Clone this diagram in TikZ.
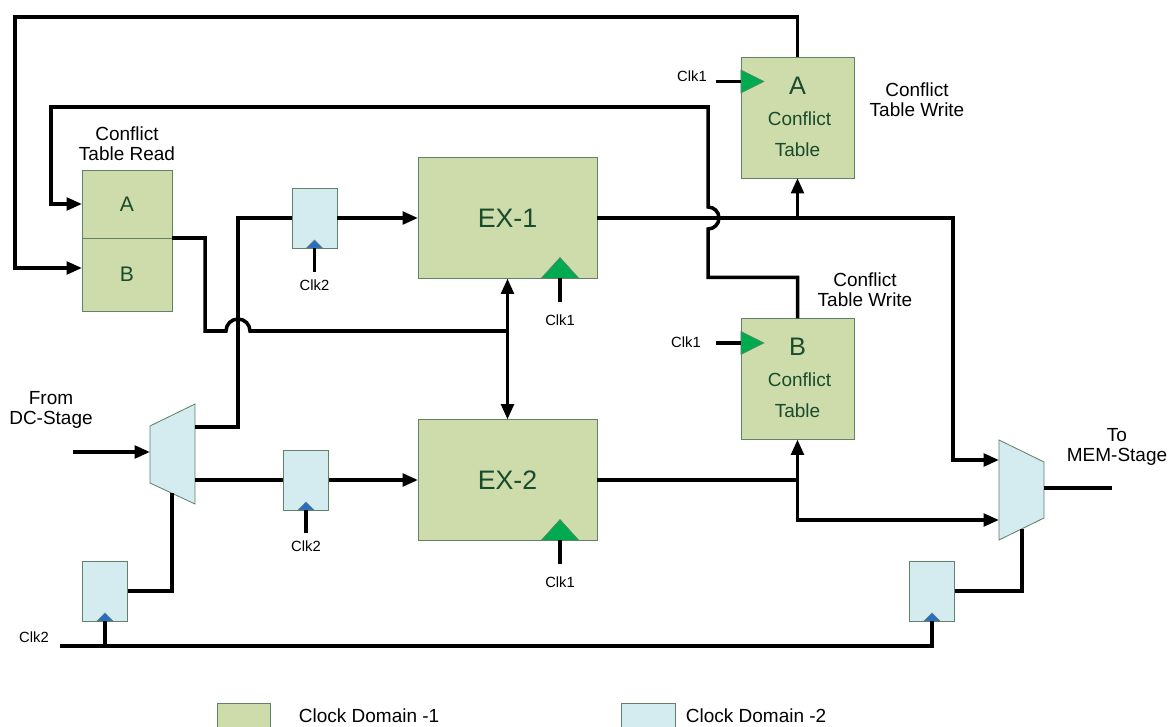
\documentclass[tikz,border=0pt]{standalone}
\usepackage{fontspec}
\setmainfont{Liberation Sans}
\usetikzlibrary{arrows.meta,positioning,calc}
\definecolor{domone}{RGB}{205,220,170}
\definecolor{domtwo}{RGB}{212,235,240}
\definecolor{boxline}{RGB}{95,130,105}
\definecolor{boxtext}{RGB}{25,75,45}
\definecolor{clkone}{RGB}{0,170,80}
\definecolor{clktwo}{RGB}{40,110,200}

\begin{document}
\begin{tikzpicture}[x=0.025cm,y=-0.025cm,>={Triangle[length=11pt,width=9pt]},
  wire/.style={line width=2.5pt},
  dom1/.style={draw=boxline,fill=domone,line width=0.6pt,text=boxtext,inner sep=0pt,outer sep=0pt},
  dom2/.style={draw=boxline,fill=domtwo,line width=0.6pt,inner sep=0pt,outer sep=0pt},
  reg/.style={dom2,minimum width=1.125cm,minimum height=1.5cm},
  exbox/.style={dom1,minimum width=4.475cm,minimum height=3.025cm,font=\fontsize{19}{22}\selectfont},
  ctbox/.style={dom1,minimum width=2.825cm,minimum height=3.025cm},
  lbl/.style={font=\fontsize{13.5}{14.5}\selectfont,align=center},
  clk/.style={font=\fontsize{10.5}{12}\selectfont}]

\useasboundingbox (0,0) rectangle (1171,727);

% execution units
\node[exbox] (ex1) at (507.5,218) {EX-1};
\node[exbox] (ex2) at (507.5,480) {EX-2};
\foreach \ex in {ex1,ex2} {
  \filldraw[fill=clkone,draw=boxline,line width=0.4pt] ($(\ex.south east)+(-56,0)$) -- ++(19,-21) -- ++(19,21) -- cycle;
  \draw[wire] ($(\ex.south east)+(-37,-1)$) -- ++(0,24) node[clk,below=5pt]{Clk1};
}

% conflict table read
\node[dom1,minimum width=2.25cm,minimum height=1.7cm,font=\fontsize{15}{18}\selectfont] (ctra) at (127,204) {A};
\node[dom1,minimum width=2.25cm,minimum height=1.825cm,font=\fontsize{15}{18}\selectfont] (ctrb) at (127,274.5) {B};
\node[lbl] at (127,144) {Conflict\\Table Read};

% conflict tables write
\node[ctbox] (cta) at (797.5,117.5) {};
\node[ctbox] (ctb) at (797.5,379) {};
\foreach \ct/\nm in {cta/A,ctb/B} {
  \node[text=boxtext,font=\fontsize{18}{20}\selectfont] at ($(\ct.center)+(0,-32)$) {\nm};
  \node[text=boxtext,lbl] at ($(\ct.center)+(2,1)$) {Conflict};
  \node[text=boxtext,lbl] at ($(\ct.center)+(0,32)$) {Table};
  \filldraw[fill=clkone,draw=boxline,line width=0.4pt] ($(\ct.north west)+(0,13)$) -- ++(23,11.5) -- ++(-23,11.5) -- cycle;
  \draw[wire] ($(\ct.north west)+(-25,24.5)$) -- ++(25,0);
}
\node[clk] at (692,76) {Clk1};
\node[clk] at (686,342) {Clk1};
\node[lbl] at (917,100) {Conflict\\Table Write};
\node[lbl] at (865,290) {Conflict\\Table Write};

% registers
\node[reg] (r1) at (314.5,218) {};
\node[reg] (r2) at (306,480) {};
\node[reg] (r3) at (105,591) {};
\node[reg] (r4) at (932,591) {};
\foreach \rg in {r1,r2,r3,r4}
  \filldraw[fill=clktwo,draw=boxline,line width=0.4pt] ($(\rg.south)+(-8,0)$) -- ++(8,-8) -- ++(8,8) -- cycle;
\draw[wire] (r1.south) -- ++(0,24) node[clk,below=1pt]{Clk2};
\draw[wire] (r2.south) -- ++(0,23) node[clk,below=1pt]{Clk2};

% muxes
\filldraw[draw=boxline,fill=domtwo,line width=0.6pt] (150,426) -- (195,404) -- (195,504) -- (150,483) -- cycle;
\coordinate (mlin) at (150,452);
\coordinate (mlo1) at (195,427);
\coordinate (mlo2) at (195,480);
\coordinate (mlsel) at (172,493);
\filldraw[draw=boxline,fill=domtwo,line width=0.6pt] (999,440) -- (1044,462) -- (1044,518) -- (999,540) -- cycle;
\coordinate (mri1) at (999,460);
\coordinate (mri2) at (999,520);
\coordinate (mrout) at (1044,488);
\coordinate (mrsel) at (1022,529);

% input side
\coordinate (dcin) at (73,452);
\draw[wire,->] (dcin) -- (mlin);
\node[lbl] at (51,410) {From\\DC-Stage};
\draw[wire] (mlo1) -- ++(43,0) |- (r1.west);
\draw[wire] (mlo2) -- (r2.west);
\draw[wire,->] (r1.east) -- (ex1.west |- r1.east);
\draw[wire,->] (r2.east) -- (ex2.west |- r2.east);
\draw[wire] (r3.east) -| (mlsel);

% clk2 bus
\coordinate (clkbus) at (60,646);
\draw[wire] (clkbus) -| (r4.south);
\draw[wire] (r3.south) -- (r3.south |- clkbus);
\node[clk] at (34,637) {Clk2};

% table read to both units
\draw[wire,<->] (ex1.south) -- (ex2.north);
\draw[wire] (ctra.south east) -- ++(33,0) |- (226,331) arc[start angle=180,end angle=360,radius=12] -- (ex1.south |- 0,331);

% results
\draw[wire,->] (ex1.east) -- (953,218) |- (mri1);
\draw[wire,->] (ex1.east -| cta.south) -- (cta.south);
\draw[wire,->] (ex2.east) -| (ctb.south);
\draw[wire,->] (ex2.east -| ctb.south) |- (mri2);
\draw[wire] (r4.east) -| (mrsel);
\coordinate (memout) at (1112,488);
\draw[wire] (mrout) -- (memout);
\node[lbl] at (1117,447) {To\\MEM-Stage};

% feedback to table read
\draw[wire,->] (cta.north) -- ++(0,-40) -| (15,268) -- (ctrb.west |- 0,268);
\draw[wire,->] (ctb.north) -- ++(0,-41) -| (708,229) arc[start angle=90,end angle=-90,radius=11] |- (51,107) |- (ctra.west);

% legend
\node[dom1,minimum width=1.325cm,minimum height=0.95cm] (lg1) at (243.5,722) {};
\node[lbl,right] at (294,716) {Clock Domain -1};
\node[dom2,minimum width=1.35cm,minimum height=0.95cm] (lg2) at (648,722) {};
\node[lbl,right] at (681,716) {Clock Domain -2};
\end{tikzpicture}
\end{document}
